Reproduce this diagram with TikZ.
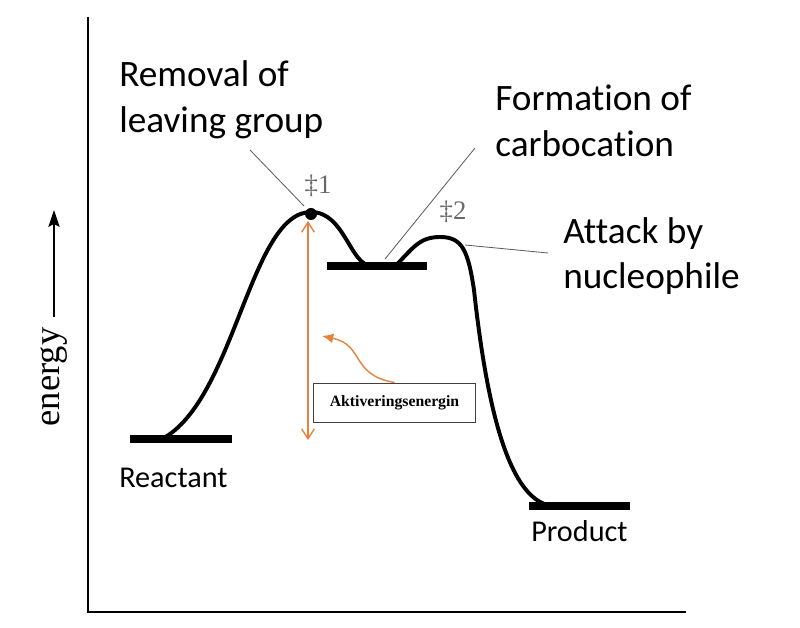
\documentclass[tikz,border=0pt]{standalone}
\usepackage{fontspec}
\setmainfont{Carlito}[Ligatures=NoCommon]
\newfontfamily\serifface{Liberation Serif}
\definecolor{actorange}{RGB}{230, 130, 60}
\definecolor{leadgray}{RGB}{95, 95, 95}
\definecolor{tsgray}{RGB}{105, 105, 105}
\definecolor{boxgray}{RGB}{64, 64, 64}
\usetikzlibrary{arrows.meta, positioning}

\begin{document}
\begin{tikzpicture}[x=0.025cm, y=-0.025cm,
  lvl/.style={line width=5.7pt},
  lbl/.style={font=\fontsize{26.5}{32.5}\selectfont, inner sep=0pt,
              align=left, anchor=west},
  lvllbl/.style={font=\fontsize{21.5}{26}\selectfont, inner sep=0pt, anchor=west},
  lead/.style={leadgray, line width=0.6pt},
  ts/.style={font=\serifface\fontsize{19}{22}\selectfont, text=tsgray, inner sep=0pt},
  act/.style={actorange, line width=1pt},
]
\useasboundingbox (0,0) rectangle (800,628);

% Axes
\coordinate (ytop) at (88,17);
\coordinate (orig) at (88,612);
\coordinate (xend) at (686,612);
\draw[line width=1.4pt] (ytop) -- (orig) -- (xend);

% Energy label with arrow
\node[font=\serifface\fontsize{26}{30}\selectfont, rotate=90, inner sep=0pt] (en) at (54,377) {energy};
\coordinate (entop) at (54,210);
\draw[-{Stealth[length=12pt, width=8pt, inset=2pt]}, line width=1pt, shorten <=7pt] (en.east) -- (entop);

% Reaction profile
\draw[line width=2.8pt] (162,439) .. controls (235,400) and (250,212) .. (311,212)
  .. controls (345,212) and (350,266) .. (372,266) -- (395,266)
  .. controls (412,250) and (418,237) .. (440,237)
  .. controls (462,237) and (468,250) .. (474,290)
  .. controls (485,390) and (505,500) .. (552,506);

% Energy levels
\draw[lvl] (130,439) -- (232,439);
\draw[lvl] (327,266) -- (427,266);
\draw[lvl] (529,506) -- (630,506);

% Transition states
\node[circle, fill, inner sep=0pt, minimum size=0.3cm] (ts1) at (311,214) {};
\node[ts] (dd1) at (318,186) {‡1};
\node[ts] (dd2) at (453,212) {‡2};

% Labels
\node[lbl] (rem) at (119,100) {Removal of\\leaving group};
\node[lbl] (form) at (495,121) {Formation of\\carbocation};
\node[lbl] (att) at (563,256) {Attack by\\nucleophile};
\node[lvllbl] (reac) at (119,478) {Reactant};
\node[lvllbl] (prod) at (531,531) {Product};

% Leader lines
\coordinate (remend) at (250,150);
\coordinate (ts1tip) at (304,206);
\coordinate (formend) at (475,148);
\coordinate (intm) at (385,259);
\coordinate (ts2tip) at (465,245);
\coordinate (attend) at (548,253);
\draw[lead] (remend) -- (ts1tip);
\draw[lead] (formend) -- (intm);
\draw[lead] (ts2tip) -- (attend);

% Activation energy
\coordinate (eatop) at (308,221);
\coordinate (eabot) at (308,440);
\draw[act, {Straight Barb[length=7pt, width=9pt]}-{Straight Barb[length=7pt, width=9pt]}] (eatop) -- (eabot);
\node[draw=boxgray, line width=0.7pt, inner sep=0pt, minimum width=4.025cm, minimum height=0.975cm,
      font=\serifface\bfseries\fontsize{11.2}{13}\selectfont] (akt) at (394.5,402.5) {Aktiveringsenergin};
\coordinate (actip) at (322,336);
\draw[act, -{Latex[length=8pt, width=7pt]}] (akt.north) .. controls (350,375) and (365,345) .. (actip);
\end{tikzpicture}
\end{document}
